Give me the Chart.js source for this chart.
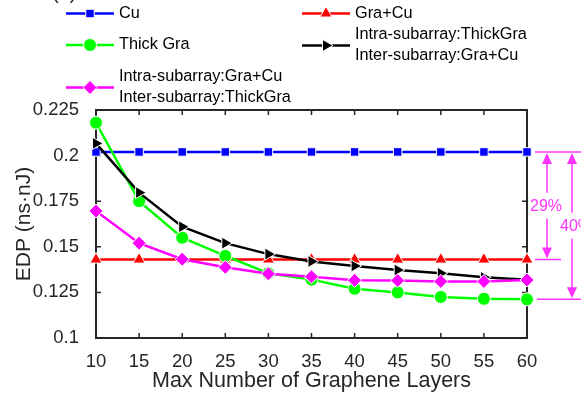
<!DOCTYPE html>
<html>
<head>
<meta charset="utf-8">
<script src="https://cdn.jsdelivr.net/npm/chart.js@4.4.1/dist/chart.umd.min.js"></script>
<style>
  html, body { margin: 0; padding: 0; background: #fff; }
  #wrap { width: 581px; height: 394px; position: relative; }
</style>
</head>
<body>
<div id="wrap"><canvas id="edpChart"></canvas></div>
<script>
const layers = [10, 15, 20, 25, 30, 35, 40, 45, 50, 55, 60];
const cu = [0.202, 0.202, 0.202, 0.202, 0.202, 0.202, 0.202, 0.202, 0.202, 0.202, 0.202];
const graCu = [0.143, 0.143, 0.143, 0.143, 0.143, 0.143, 0.143, 0.143, 0.143, 0.143, 0.143];
const thickGra = [0.218, 0.175, 0.155, 0.145, 0.1355, 0.132, 0.127, 0.125, 0.1225, 0.1215, 0.1212];
const intraThickInterGraCu = [0.2067, 0.1797, 0.161, 0.152, 0.146, 0.142, 0.1395, 0.1373, 0.1355, 0.1333, 0.132];
const intraGraCuInterThick = [0.1696, 0.152, 0.1432, 0.1388, 0.1352, 0.1336, 0.1316, 0.1315, 0.131, 0.131, 0.1318];
const yTicks = [0.1, 0.125, 0.15, 0.175, 0.2, 0.225];
const xTicks = [10, 15, 20, 25, 30, 35, 40, 45, 50, 55, 60];

const FONT = "'Liberation Sans', Arial, sans-serif";
const MAGENTA = "#ff33ff";

function series(label, values, color, style, radius, rotation, order) {
	return {
		label: label,
		data: layers.map((x, i) => ({ x: x, y: values[i] })),
		borderColor: color,
		backgroundColor: color,
		borderWidth: 2.5,
		pointStyle: style,
		pointRadius: radius,
		pointRotation: rotation,
		pointBackgroundColor: color,
		pointBorderColor: "#ffffff",
		pointBorderWidth: 1,
		tension: 0,
		clip: false,
		order: order
	};
}

// legend rows: [dataset index, column, center y, text lines]
const legendRows = [
	[0, 0, 13.5, ["Cu"]],
	[2, 0, 45, ["Thick Gra"]],
	[4, 0, 87.5, ["Intra-subarray:Gra+Cu", "Inter-subarray:ThickGra"]],
	[1, 1, 13.5, ["Gra+Cu"]],
	[3, 1, 45.5, ["Intra-subarray:ThickGra", "Inter-subarray:Gra+Cu"]]
];
const legendCols = [{ x0: 66, x1: 114, tx: 119 }, { x0: 302, x1: 350, tx: 355 }];

const legendPlugin = {
	id: "matlabLegend",
	afterDraw(chart) {
		const ctx = chart.ctx;
		ctx.save();
		ctx.font = "16.3px " + FONT;
		ctx.textBaseline = "middle";
		legendRows.forEach(([di, col, cy, lines]) => {
			const ds = chart.data.datasets[di];
			const c = legendCols[col];
			ctx.strokeStyle = ds.borderColor;
			ctx.lineWidth = 2.5;
			ctx.beginPath();
			ctx.moveTo(c.x0, cy);
			ctx.lineTo(c.x1, cy);
			ctx.stroke();
			ctx.fillStyle = ds.pointBackgroundColor;
			ctx.strokeStyle = "#ffffff";
			ctx.lineWidth = 1;
			Chart.helpers.drawPoint(ctx, {
				pointStyle: ds.pointStyle,
				radius: ds.pointRadius,
				rotation: ds.pointRotation,
				borderWidth: 1
			}, (c.x0 + c.x1) / 2, cy);
			ctx.fillStyle = "#000";
			const lh = 21;
			lines.forEach((t, k) => {
				ctx.fillText(t, c.tx, cy + (k - (lines.length - 1) / 2) * lh);
			});
		});
		// panel tag, mostly above the top edge
		ctx.font = "20px " + FONT;
		ctx.textBaseline = "alphabetic";
		ctx.fillStyle = "#262626";
		ctx.fillText("(a)", 52, -1);
		ctx.fillText(")", -4, -1);
		ctx.restore();
	}
};

// axes box with inward tick marks on all four sides
const framePlugin = {
	id: "matlabFrame",
	beforeDatasetsDraw(chart) {
		const { ctx, chartArea: a, scales } = chart;
		ctx.save();
		ctx.strokeStyle = "#262626";
		ctx.lineWidth = 2;
		ctx.strokeRect(a.left, a.top, a.right - a.left, a.bottom - a.top);
		ctx.lineWidth = 1.5;
		ctx.beginPath();
		xTicks.forEach(v => {
			const px = scales.x.getPixelForValue(v);
			ctx.moveTo(px, a.bottom); ctx.lineTo(px, a.bottom - 5);
			ctx.moveTo(px, a.top); ctx.lineTo(px, a.top + 5);
		});
		yTicks.forEach(v => {
			const py = scales.y.getPixelForValue(v);
			ctx.moveTo(a.left, py); ctx.lineTo(a.left + 5, py);
			ctx.moveTo(a.right, py); ctx.lineTo(a.right - 5, py);
		});
		ctx.stroke();
		ctx.restore();
	}
};

function arrowHead(ctx, x, y, dir) {
	ctx.beginPath();
	ctx.moveTo(x, y);
	ctx.lineTo(x - 5, y - dir * 11);
	ctx.lineTo(x + 5, y - dir * 11);
	ctx.closePath();
	ctx.fill();
}

// reduction markers on the right side of the axes
const reductionPlugin = {
	id: "reduction",
	afterDraw(chart) {
		const { ctx, scales } = chart;
		const last = layers.length - 1;
		const yTop = scales.y.getPixelForValue(cu[last]);
		const yMid = scales.y.getPixelForValue(graCu[last]);
		const yBot = scales.y.getPixelForValue(thickGra[last]);
		const p1 = Math.round((cu[last] - graCu[last]) / cu[last] * 100);
		const p2 = Math.round((cu[last] - thickGra[last]) / cu[last] * 100);
		const a1 = 547, a2 = 572;
		ctx.save();
		ctx.strokeStyle = MAGENTA;
		ctx.fillStyle = MAGENTA;
		ctx.lineWidth = 1.5;
		ctx.beginPath();
		ctx.moveTo(535, yTop); ctx.lineTo(581, yTop);
		ctx.moveTo(535, yMid); ctx.lineTo(561, yMid);
		ctx.moveTo(537, yBot); ctx.lineTo(581, yBot);
		const t1 = (yTop + yMid) / 2, t2 = (yTop + yBot) / 2;
		ctx.moveTo(a1, yTop + 8); ctx.lineTo(a1, t1 - 13);
		ctx.moveTo(a1, t1 + 13); ctx.lineTo(a1, yMid - 8);
		ctx.moveTo(a2, yTop + 8); ctx.lineTo(a2, t2 - 13);
		ctx.moveTo(a2, t2 + 13); ctx.lineTo(a2, yBot - 8);
		ctx.stroke();
		arrowHead(ctx, a1, yTop + 1, -1);
		arrowHead(ctx, a1, yMid - 1, 1);
		arrowHead(ctx, a2, yTop + 1, -1);
		arrowHead(ctx, a2, yBot - 1, 1);
		ctx.font = "16px " + FONT;
		ctx.textAlign = "left";
		ctx.textBaseline = "middle";
		ctx.fillText(p1 + "%", 530, t1 + 1);
		ctx.fillText(p2 + "%", 560, t2 + 1);
		ctx.restore();
	}
};

new Chart(document.getElementById("edpChart"), {
	type: "line",
	data: {
		datasets: [
			series("Cu", cu, "#0000ff", "rect", 6, 0, 4),
			series("Gra+Cu", graCu, "#ff0000", "triangle", 7, 0, 3),
			series("Thick Gra", thickGra, "#00ff00", "circle", 6.5, 0, 2),
			series("Intra-subarray:ThickGra Inter-subarray:Gra+Cu", intraThickInterGraCu, "#000000", "triangle", 7, 90, 1),
			series("Intra-subarray:Gra+Cu Inter-subarray:ThickGra", intraGraCuInterThick, "#ff00ff", "rectRot", 7, 0, 0)
		]
	},
	options: {
		responsive: true,
		maintainAspectRatio: false,
		animation: false,
		layout: { padding: { left: 12, right: 54, top: 110, bottom: 0 } },
		plugins: {
			legend: { display: false },
			tooltip: { enabled: false }
		},
		scales: {
			x: {
				type: "linear",
				min: 10,
				max: 60,
				afterFit: s => { s.height = 56; },
				afterBuildTicks: s => { s.ticks = xTicks.map(v => ({ value: v })); },
				grid: { display: false },
				border: { display: false },
				ticks: { color: "#262626", font: { family: FONT, size: 18.5 }, padding: 5, maxRotation: 0 },
				title: { display: true, text: "Max Number of Graphene Layers", color: "#262626", font: { family: FONT, size: 21.5 }, padding: 0 }
			},
			y: {
				type: "linear",
				min: 0.1,
				max: 0.225,
				afterFit: s => { s.width = 84; },
				afterBuildTicks: s => { s.ticks = yTicks.map(v => ({ value: v })); },
				grid: { display: false },
				border: { display: false },
				ticks: {
					color: "#262626",
					font: { family: FONT, size: 18.5 },
					padding: 9,
					callback: v => String(+v.toFixed(3))
				},
				title: { display: true, text: "EDP (ns\u00b7nJ)", color: "#262626", font: { family: FONT, size: 21 }, padding: 0 }
			}
		}
	},
	plugins: [framePlugin, legendPlugin, reductionPlugin]
});
</script>
</body>
</html>
